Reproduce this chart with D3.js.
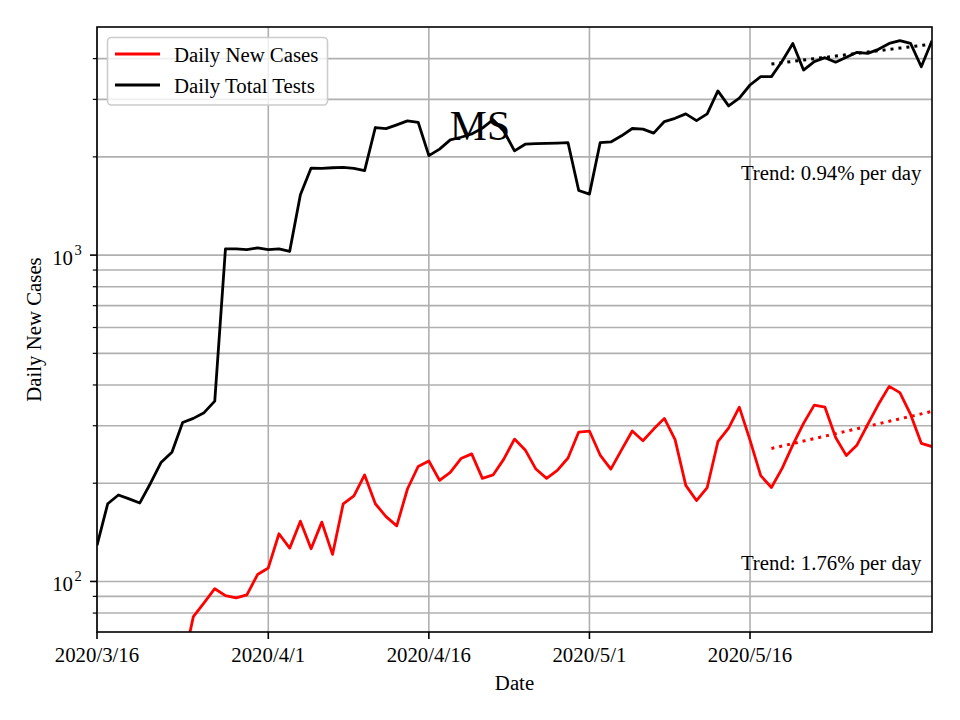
<!DOCTYPE html>
<html>
<head>
<meta charset="utf-8">
<script src="https://cdn.jsdelivr.net/npm/d3@7"></script>
<style>
  body { margin: 0; background: #fff; }
  text { font-family: "Liberation Serif", "Times New Roman", serif; fill: #000; }
</style>
</head>
<body>
<svg id="chart" width="960" height="720"></svg>
<script>
// data (one value per day from 2020/3/16)
var startDate = "2020/3/16";
var dailyCases = [10, 13, 16, 22, 30, 38, 46, 51, 55, 78,
  86, 95, 90.5, 89, 91, 105, 110, 140, 126.5, 153,
  126, 152, 121, 173, 183, 212, 173, 158, 148, 192,
  225, 234, 204, 216, 238, 246, 207, 212, 237, 273,
  253, 221, 207, 219, 239, 287, 289, 244, 221, 253,
  289, 270, 293, 316, 272, 197, 177, 194, 268, 295,
  342, 271, 211, 194, 222, 262, 305, 347, 342, 276,
  243, 262, 303, 349, 396, 379, 325, 265, 259];
var dailyTests = [129, 173, 184, 179, 174, 200, 232, 249, 307, 316,
  329, 357, 1045, 1045, 1039, 1052, 1039, 1045, 1027, 1531,
  1848, 1844, 1852, 1857, 1844, 1816, 2460, 2440, 2507, 2578,
  2553, 2018, 2113, 2255, 2297, 2350, 2450, 2600, 2400, 2087,
  2187, 2197, 2200, 2205, 2210, 1578, 1538, 2210, 2222, 2320,
  2443, 2432, 2364, 2566, 2625, 2708, 2583, 2708, 3185, 2865,
  3027, 3321, 3523, 3523, 3927, 4453, 3690, 3918, 4027, 3900,
  4037, 4181, 4151, 4271, 4453, 4540, 4453, 3777, 4540];
var xTickLabels = ["2020/3/16", "2020/4/1", "2020/4/16", "2020/5/1", "2020/5/16"];
var yMajorTicks = [100, 1000];
var yMinorTicks = [80, 90, 200, 300, 400, 500, 600, 700, 800, 900, 2000, 3000, 4000];
// fitted trend over the last days: [first day index, value at that day, % per day]
var casesTrend = [63, 255.5, 1.76];
var testsTrend = [63, 3851, 0.94];
var stateName = "MS";

(function() {
var parse = d3.utcParse("%Y/%m/%d");
var day0 = parse(startDate);
var dates = dailyTests.map(function(d, i) { return d3.utcDay.offset(day0, i); });

var mLeft = 97, mRight = 932, mTop = 27, mBottom = 632;
var svg = d3.select("#chart");

var x = d3.scaleUtc()
  .domain([day0, dates[dates.length - 1]])
  .range([mLeft, mRight]);
var y = d3.scaleLog()
  .domain([70, 5000])
  .range([mBottom, mTop]);

svg.append("defs").append("clipPath").attr("id", "plotclip")
  .append("rect").attr("x", mLeft).attr("y", mTop)
  .attr("width", mRight - mLeft).attr("height", mBottom - mTop);

// grid
var grid = svg.append("g").attr("stroke", "#b0b0b0").attr("stroke-width", 1.6);
yMajorTicks.concat(yMinorTicks).forEach(function(v) {
  grid.append("line").attr("x1", mLeft).attr("x2", mRight)
    .attr("y1", y(v)).attr("y2", y(v));
});
xTickLabels.forEach(function(t) {
  var xx = x(parse(t));
  grid.append("line").attr("x1", xx).attr("x2", xx)
    .attr("y1", mTop).attr("y2", mBottom);
});

// lines
var line = function(vals) {
  return d3.line()
    .x(function(d, i) { return x(dates[i]); })
    .y(function(d) { return y(d); })(vals);
};
var plot = svg.append("g").attr("clip-path", "url(#plotclip)");
plot.append("path").attr("d", line(dailyCases))
  .attr("fill", "none").attr("stroke", "#ff0000").attr("stroke-width", 2.8)
  .attr("stroke-linejoin", "round");
plot.append("path").attr("d", line(dailyTests))
  .attr("fill", "none").attr("stroke", "#000").attr("stroke-width", 2.8)
  .attr("stroke-linejoin", "round");

function trendPath(tr) {
  var pts = [];
  for (var i = tr[0]; i < dates.length; i++) {
    pts.push([x(dates[i]), y(tr[1] * Math.pow(1 + tr[2] / 100, i - tr[0]))]);
  }
  return d3.line()(pts);
}
plot.append("path").attr("d", trendPath(casesTrend))
  .attr("fill", "none").attr("stroke", "#ff0000").attr("stroke-width", 3)
  .attr("stroke-dasharray", "3,5");
plot.append("path").attr("d", trendPath(testsTrend))
  .attr("fill", "none").attr("stroke", "#000").attr("stroke-width", 3)
  .attr("stroke-dasharray", "3,5");

// axes
var xAxis = svg.append("g").attr("transform", "translate(0," + mBottom + ")");
xTickLabels.forEach(function(t) {
  var xx = x(parse(t));
  xAxis.append("line").attr("x1", xx).attr("x2", xx).attr("y1", 0).attr("y2", 7)
    .attr("stroke", "#000").attr("stroke-width", 1.6);
  xAxis.append("text").attr("x", xx).attr("y", 30).attr("text-anchor", "middle")
    .attr("font-size", "20.8px").text(t);
});

var yAxis = svg.append("g").attr("transform", "translate(" + mLeft + ",0)");
yMinorTicks.forEach(function(v) {
  yAxis.append("line").attr("x1", -4.2).attr("x2", 0).attr("y1", y(v)).attr("y2", y(v))
    .attr("stroke", "#000").attr("stroke-width", 1.2);
});
yMajorTicks.forEach(function(v) {
  yAxis.append("line").attr("x1", -7).attr("x2", 0).attr("y1", y(v)).attr("y2", y(v))
    .attr("stroke", "#000").attr("stroke-width", 1.6);
  yAxis.append("text").attr("x", -24).attr("y", y(v) + 9.5)
    .attr("text-anchor", "end").attr("font-size", "20.8px").text("10");
  yAxis.append("text").attr("x", -22.5).attr("y", y(v) - 0.5)
    .attr("font-size", "14.5px").text(String(Math.round(Math.log10(v))));
});

svg.append("rect").attr("x", mLeft).attr("y", mTop)
  .attr("width", mRight - mLeft).attr("height", mBottom - mTop)
  .attr("fill", "none").attr("stroke", "#000").attr("stroke-width", 1.6);

// labels
svg.append("text").attr("x", (mLeft + mRight) / 2).attr("y", 690)
  .attr("text-anchor", "middle").attr("font-size", "20.8px").text("Date");
svg.append("text").attr("transform", "translate(41," + (mTop + mBottom) / 2 + ") rotate(-90)")
  .attr("text-anchor", "middle").attr("font-size", "20.8px").text("Daily New Cases");

svg.append("text").attr("x", 480).attr("y", 140).attr("text-anchor", "middle")
  .attr("font-size", "41.7px").text(stateName);

svg.append("text").attr("x", 921.5).attr("y", 179.5).attr("text-anchor", "end")
  .attr("font-size", "20.8px").text("Trend: " + testsTrend[2].toFixed(2) + "% per day");
svg.append("text").attr("x", 921.5).attr("y", 570).attr("text-anchor", "end")
  .attr("font-size", "20.8px").text("Trend: " + casesTrend[2].toFixed(2) + "% per day");

// legend
var legend = svg.append("g");
legend.append("rect").attr("x", 107.5).attr("y", 37.5).attr("width", 220).attr("height", 67.5)
  .attr("rx", 4).attr("fill", "#fff").attr("fill-opacity", 0.8)
  .attr("stroke", "#cccccc").attr("stroke-width", 1.6);
[["Daily New Cases", "#ff0000"], ["Daily Total Tests", "#000"]].forEach(function(it, i) {
  var yy = 54 + i * 31;
  legend.append("line").attr("x1", 115).attr("x2", 160).attr("y1", yy).attr("y2", yy)
    .attr("stroke", it[1]).attr("stroke-width", 2.8);
  legend.append("text").attr("x", 174).attr("y", yy + 7.5)
    .attr("font-size", "20.8px").text(it[0]);
});
})();
</script>
</body>
</html>
